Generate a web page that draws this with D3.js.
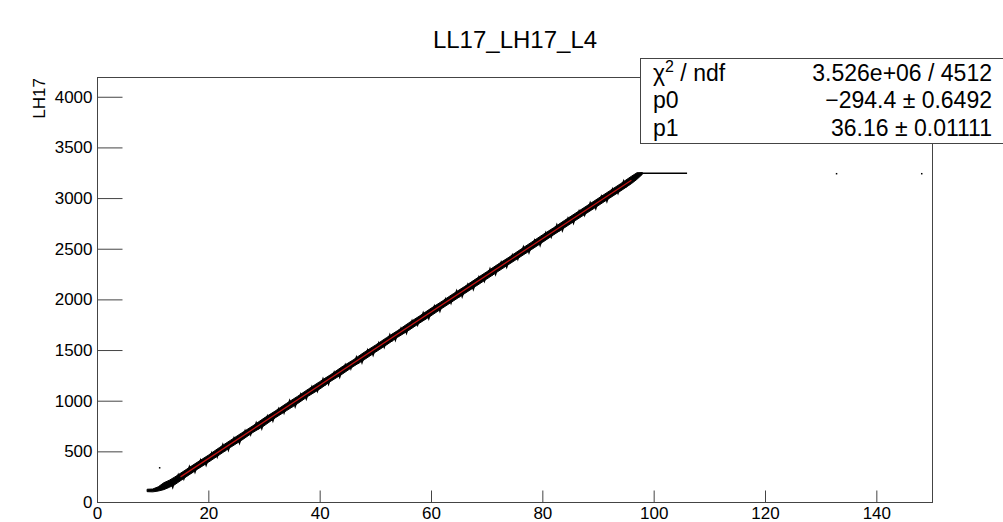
<!DOCTYPE html>
<html>
<head>
<meta charset="utf-8">
<script src="https://cdn.jsdelivr.net/npm/d3@7"></script>
<style>
	body { margin: 0; background: #fff; }
	svg { display: block; font-family: "Liberation Sans", Arial, sans-serif; }
</style>
</head>
<body>
<div id="container"></div>
<script>
// band of the 2D histogram (x, lower edge, upper edge)
var bandX  = [9, 10, 11, 12, 13, 14, 16, 18, 20, 22, 24, 26, 28, 30, 32, 34, 36, 38, 40, 42, 44, 46, 48, 50, 52, 54, 56, 58, 60, 62, 64, 66, 68, 70, 72, 74, 76, 78, 80, 82, 84, 86, 88, 90, 92, 94, 96, 97, 98];
var bandLo = [102, 100, 108, 122, 145, 172, 248, 322, 392, 466, 540, 610, 686, 752, 830, 900, 970, 1046, 1114, 1192, 1260, 1336, 1404, 1478, 1550, 1626, 1694, 1768, 1838, 1912, 1984, 2056, 2128, 2200, 2274, 2346, 2418, 2490, 2562, 2636, 2708, 2780, 2852, 2924, 2996, 3068, 3142, 3185, 3236];
var bandHi = [126, 128, 150, 190, 215, 248, 320, 392, 462, 538, 610, 682, 752, 828, 898, 972, 1042, 1116, 1188, 1258, 1334, 1402, 1478, 1548, 1622, 1692, 1768, 1838, 1912, 1982, 2056, 2126, 2200, 2272, 2346, 2416, 2490, 2562, 2636, 2706, 2780, 2852, 2924, 2996, 3068, 3140, 3215, 3250, 3252];

// saturated plateau and stray entries
var plateauX = [98, 106];
var plateauY = [3245, 3245];
var strayX = [11.3, 132.9, 148.2];
var strayY = [335, 3238, 3238];

// pol1 fit drawn over its range
var fitX = [15, 96];
var fitY = [248, 3177];

var statNames = ["χ2 / ndf", "p0", "p1"];
var statValues = ["3.526e+06 / 4512", "\u2212294.4 \u00b1 0.6492", "36.16 \u00b1 0.01111"];

var xMajor = [0, 20, 40, 60, 80, 100, 120, 140];
var yMajor = [0, 500, 1000, 1500, 2000, 2500, 3000, 3500, 4000];

(function()
{
	var W = 1003, H = 522;
	var frame = {left: 97, right: 932, top: 77, bottom: 502};

	var svg = d3.select("#container").append("svg").attr("width", W).attr("height", H);

	var x = d3.scaleLinear().domain([0, 150]).range([frame.left, frame.right]);
	var y = d3.scaleLinear().domain([0, 4195]).range([frame.bottom, frame.top]);

	// title
	svg.append("text").attr("x", 515).attr("y", 48).attr("text-anchor", "middle")
		.style("font-size", "24px").text("LL17_LH17_L4");

	// frame
	svg.append("rect").attr("x", frame.left + 0.5).attr("y", frame.top + 0.5)
		.attr("width", frame.right - frame.left).attr("height", frame.bottom - frame.top)
		.attr("fill", "none").attr("stroke", "#444").attr("stroke-width", 1);

	// data band
	var band = bandX.map(function(d, i) { return {x: d, lo: bandLo[i], hi: bandHi[i]}; });
	svg.append("path").datum(band)
		.attr("fill", "#000").attr("stroke", "#000").attr("stroke-width", 1)
		.attr("d", d3.area().x(function(d) { return x(d.x); })
			.y0(function(d) { return y(d.lo); })
			.y1(function(d) { return y(d.hi); }));

	// rough edges: small spikes sticking out of both sides of the band
	var spikes = [];
	band.forEach(function(d, i)
	{
		if (i < 5 || i > band.length - 4) return;
		var s = (i % 3 == 0) ? 3 : 2.2;
		spikes.push({x: d.x + 0.6, y: d.hi + 22, up: 1, s: s});
		spikes.push({x: d.x - 0.4, y: d.lo - 22, up: -1, s: 5.2 - s});
	});
	svg.append("g").selectAll("path").data(spikes).join("path")
		.attr("fill", "#000")
		.attr("d", function(d)
		{
			var cx = x(d.x), cy = y(d.y);
			return "M" + (cx - d.s) + "," + (cy + 2 * d.s * d.up) + "L" + cx + "," + (cy - d.s * d.up) + "L" + (cx + d.s) + "," + (cy + 2 * d.s * d.up) + "Z";
		});

	svg.append("line")
		.attr("x1", x(plateauX[0])).attr("x2", x(plateauX[1]))
		.attr("y1", y(plateauY[0])).attr("y2", y(plateauY[1]))
		.attr("stroke", "#000").attr("stroke-width", 1.5);

	svg.append("g").selectAll("rect").data(strayX).join("rect")
		.attr("x", function(d) { return x(d) - 1; })
		.attr("y", function(d, i) { return y(strayY[i]) - 1; })
		.attr("width", 1.5).attr("height", 1.5).attr("fill", "#000");

	// fit
	svg.append("line")
		.attr("x1", x(fitX[0])).attr("x2", x(fitX[1]))
		.attr("y1", y(fitY[0])).attr("y2", y(fitY[1]))
		.attr("stroke", "#c41414").attr("stroke-width", 1.2);

	// axes, ticks pointing inside the frame like ROOT
	var xMinor = d3.range(0, 150, 5);
	var yMinor = d3.range(0, 4195, 100);

	var gx = svg.append("g").attr("transform", "translate(0," + (frame.bottom + 0.5) + ")");
	gx.call(d3.axisBottom(x).tickValues(xMinor).tickSize(-6).tickFormat(""));
	gx.call(d3.axisBottom(x).tickValues(xMajor).tickSize(-12).tickPadding(4).tickFormat(d3.format("d")));
	styleAxis(gx);

	var gy = svg.append("g").attr("transform", "translate(" + (frame.left + 0.5) + ",0)");
	gy.call(d3.axisLeft(y).tickValues(yMinor).tickSize(-12.5).tickFormat(""));
	gy.call(d3.axisLeft(y).tickValues(yMajor).tickSize(-25).tickPadding(5).tickFormat(d3.format("d")));
	styleAxis(gy);

	function styleAxis(g)
	{
		g.selectAll(".domain").remove();
		g.selectAll("line").attr("stroke", "#444");
		g.selectAll("text").attr("fill", "#000").style("font-size", "17px")
			.style("font-family", "'Liberation Sans', Arial, sans-serif");
	}

	svg.append("text").attr("transform", "translate(45,78) rotate(-90)")
		.attr("text-anchor", "end").style("font-size", "17px").text("LH17");

	// stats box
	svg.append("rect").attr("x", 640.5).attr("y", 58.5).attr("width", 370).attr("height", 85)
		.attr("fill", "#fff").attr("stroke", "#444").attr("stroke-width", 1);

	var rowY = [80.5, 108, 135.5];
	statNames.forEach(function(name, i)
	{
		var t = svg.append("text").attr("x", 653).attr("y", rowY[i]).style("font-size", "23px");
		if (i == 0)
		{
			t.append("tspan").text("χ");
			t.append("tspan").attr("dy", -9).style("font-size", "16px").text("2");
			t.append("tspan").attr("dy", 9).text(" / ndf");
		}
		else t.text(name);
		svg.append("text").attr("x", 992).attr("y", rowY[i]).attr("text-anchor", "end")
			.style("font-size", "23px").text(statValues[i]);
	});
})();
</script>
</body>
</html>
